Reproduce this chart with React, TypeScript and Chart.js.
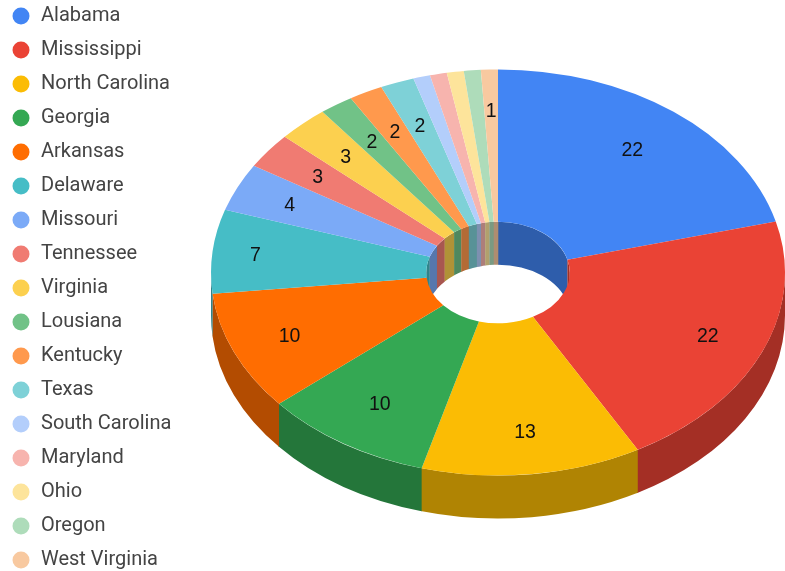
import React, { useEffect, useRef } from "react";
import { Chart, registerables } from "chart.js";

Chart.register(...registerables);

const states = [
  "Alabama", "Mississippi", "North Carolina", "Georgia", "Arkansas", "Delaware",
  "Missouri", "Tennessee", "Virginia", "Lousiana", "Kentucky", "Texas",
  "South Carolina", "Maryland", "Ohio", "Oregon", "West Virginia",
];
const counts = [22, 22, 13, 10, 10, 7, 4, 3, 3, 2, 2, 2, 1, 1, 1, 1, 1];
const sliceColors = [
  "#4285F4", "#EA4335", "#FBBC04", "#34A853", "#FF6D01", "#46BDC6",
  "#7BAAF7", "#F07B72", "#FCD04F", "#71C287", "#FF994D", "#7ED1D7",
  "#B3CEFB", "#F7B4AE", "#FDE49B", "#AEDCBA", "#F8C9A0",
];
// Slices too thin for a readable number stay unlabelled.
const sliceLabels = ["22", "22", "13", "10", "10", "7", "4", "3", "3", "2", "2", "2", "", "", "", "", "1"];
// Radial placement of each number, as a share of the outer radius.
const labelReach = [0.765, 0.795, 0.79, 0.765, 0.79, 0.85, 0.8, 0.785, 0.78, 0.78, 0.78, 0.775, 0.8, 0.8, 0.8, 0.8, 0.8];

// The canvas sits at (-3, -8) on the page, so these are canvas coordinates.
const CENTER_X = 501;
const CENTER_Y = 280.5;
const OUTER_RADIUS = 287;
const TILT = 0.7075;
const DEPTH = 43;
const WALL_SHADE = 0.7;
const SEAM_OVERLAP = 0.004;

const shade = (hex: string) => {
  const n = parseInt(hex.slice(1), 16);
  const part = (v: number) => Math.round(v * WALL_SHADE);
  return `rgb(${part((n >> 16) & 255)},${part((n >> 8) & 255)},${part(n & 255)})`;
};

// Fills the vertical wall below one arc of the ring, limited to the angles lo..hi.
const fillWall = (
  ctx: CanvasRenderingContext2D,
  radius: number,
  start: number,
  end: number,
  lo: number,
  hi: number,
) => {
  const from = Math.max(start, lo);
  const to = Math.min(end + SEAM_OVERLAP, hi);
  if (from >= to) return;
  ctx.beginPath();
  ctx.ellipse(CENTER_X, CENTER_Y, radius, radius * TILT, 0, from, to);
  ctx.ellipse(CENTER_X, CENTER_Y + DEPTH, radius, radius * TILT, 0, to, from, true);
  ctx.closePath();
  ctx.fill();
};

const tiltedRing = {
  id: "tiltedRing",
  beforeDatasetDraw(chart: any) {
    const { ctx } = chart;
    const arcs = chart.getDatasetMeta(0).data;
    const inner = arcs[0].innerRadius;

    // Front of the outer wall.
    ctx.save();
    arcs.forEach((arc: any, i: number) => {
      ctx.fillStyle = shade(sliceColors[i]);
      fillWall(ctx, arc.outerRadius, arc.startAngle, arc.endAngle, 0, Math.PI);
    });
    ctx.restore();

    // Back of the inner wall, seen through the hole.
    ctx.save();
    ctx.beginPath();
    ctx.ellipse(CENTER_X, CENTER_Y, inner + 1, (inner + 1) * TILT, 0, 0, Math.PI * 2);
    ctx.clip();
    arcs.forEach((arc: any, i: number) => {
      ctx.fillStyle = shade(sliceColors[i]);
      fillWall(ctx, inner, arc.startAngle, arc.endAngle, -Math.PI, 0);
      fillWall(ctx, inner, arc.startAngle, arc.endAngle, Math.PI, Math.PI * 2);
    });
    ctx.restore();

    // The doughnut itself is drawn flat, then squashed onto the tilted plane.
    ctx.save();
    ctx.translate(CENTER_X, CENTER_Y);
    ctx.scale(1, TILT);
    ctx.translate(-arcs[0].x, -arcs[0].y);
  },
  afterDatasetDraw(chart: any) {
    chart.ctx.restore();
  },
  afterDatasetsDraw(chart: any) {
    const { ctx } = chart;
    const arcs = chart.getDatasetMeta(0).data;
    ctx.save();
    ctx.font = '19.5px "Liberation Sans", Arial, sans-serif';
    ctx.fillStyle = "#111";
    ctx.textAlign = "center";
    ctx.textBaseline = "middle";
    arcs.forEach((arc: any, i: number) => {
      if (!sliceLabels[i]) return;
      const mid = (arc.startAngle + arc.endAngle) / 2;
      const r = OUTER_RADIUS * labelReach[i];
      ctx.fillText(sliceLabels[i], CENTER_X + Math.cos(mid) * r, CENTER_Y + 1 + Math.sin(mid) * r * TILT);
    });
    ctx.restore();
  },
};

export default function App() {
  const ref = useRef<HTMLCanvasElement>(null);

  useEffect(() => {
    const chart = new Chart(ref.current!, {
      type: "doughnut",
      data: {
        labels: states,
        datasets: [{ data: counts, backgroundColor: sliceColors, borderWidth: 0, clip: false } as any],
      },
      options: {
        animation: false,
        responsive: false,
        radius: OUTER_RADIUS,
        cutout: "25%",
        plugins: {
          tooltip: { enabled: false },
          legend: {
            position: "left",
            align: "start",
            labels: {
              usePointStyle: true,
              pointStyle: "circle",
              boxWidth: 20,
              boxHeight: 12,
              padding: 14,
              color: "#444",
              font: { family: "Roboto, Arial, sans-serif", size: 20 },
            },
          },
        },
      } as any,
      plugins: [tiltedRing],
    });
    return () => chart.destroy();
  }, []);

  return (
    <canvas
      ref={ref}
      width={790}
      height={640}
      style={{ position: "fixed", left: -3, top: -8, display: "block" }}
    />
  );
}
